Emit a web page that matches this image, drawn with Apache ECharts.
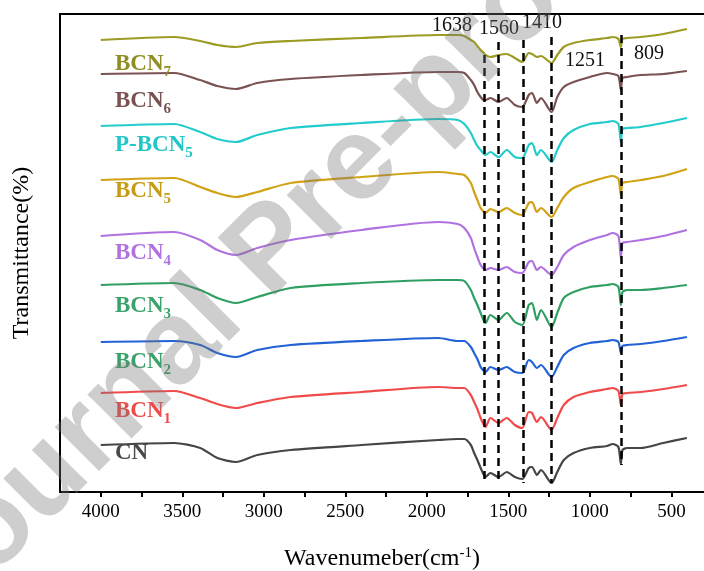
<!DOCTYPE html>
<html>
<head>
<meta charset="utf-8">
<script src="https://cdn.jsdelivr.net/npm/echarts@6/dist/echarts.min.js"></script>
<style>
html,body{margin:0;padding:0;background:#fff;}
#chart{width:704px;height:571px;}
</style>
</head>
<body>
<div id="chart"></div>
<script>
// Wavenumber grid (cm-1)
const wavenumbers = [4000,3550,3390,3285,3170,3040,2835,2400,1930,1810,1770,1730,1710,1690,1670,1650,1640,1610,1560,1510,1460,1415,1375,1355,1325,1300,1235,1200,1160,1100,1000,895,860,825,810,800,772,690,550,405];

// Stacked transmittance (offset, arbitrary units)
const CN     = [55,57,52,42,38,45,50,55,60,61,61,55,47,40,32,25,23,27,23,28,23,21,32,33,25,30,17,28,40,47,52,54,56,53,36,50,52,52,57,62];
const BCN1   = [107,109,102,96,92,97,103,108,113,112,112,105,98,91,82,75,73,82,77,82,75,72,88,87,78,83,70,82,95,103,108,111,112,109,95,106,107,108,111,115];
const BCN2   = [158,159,155,147,143,150,155,159,162,159,159,153,147,141,133,129,128,133,130,133,128,127,140,138,132,135,123,133,145,152,157,159,160,158,147,154,155,156,159,163];
const BCN3   = [215,217,210,202,197,203,212,217,220,220,219,210,202,195,187,179,177,185,180,187,178,175,195,197,180,190,173,187,202,208,213,215,216,213,195,208,210,210,212,215];
const BCN4   = [264,268,260,250,245,252,260,270,278,276,272,262,252,243,235,231,230,232,230,233,228,227,238,239,230,233,225,233,245,253,260,265,267,264,242,257,258,260,264,270];
const BCN5   = [320,322,313,307,303,308,317,323,328,326,325,317,308,300,292,288,287,291,288,292,287,285,297,298,288,292,283,292,303,312,318,323,324,321,305,317,318,320,324,331];
const PBCN5  = [374,376,368,361,358,365,372,377,381,380,376,367,360,354,350,346,345,348,343,350,343,342,355,357,345,350,338,350,362,370,376,378,379,376,358,371,372,373,377,382];
const BCN6   = [426,427,420,414,411,417,421,425,428,428,427,420,415,408,403,400,400,402,398,402,395,393,405,407,397,402,388,403,413,418,423,427,426,424,410,422,423,425,426,429];
const BCN7   = [460,463,459,455,453,457,459,462,465,465,464,460,458,454,450,447,445,443,445,446,442,438,447,446,443,444,437,445,453,457,460,462,463,461,453,461,462,463,466,471];

const seriesNames = ['CN','BCN1','BCN2','BCN3','BCN4','BCN5','P-BCN5','BCN6','BCN7'];
const seriesData  = [CN,BCN1,BCN2,BCN3,BCN4,BCN5,PBCN5,BCN6,BCN7];
const lineColors  = ['#454545','#f04a4a','#2262d6','#2fa062','#b072e0','#d0a214','#22cccc','#7a5252','#9c9c24'];
const labelColors = ['#4a4a4a','#f04a4a','#3aa36a','#3aa36a','#b072e0','#c79c14','#22c6c6','#7a5252','#8e8e22'];
const labelMain   = ['CN','BCN','BCN','BCN','BCN','BCN','P-BCN','BCN','BCN'];
const labelSub    = ['','1','2','3','4','5','5','6','7'];

// x axis ticks / labels
const xTickLabels = [4000,3500,3000,2500,2000,1500,1000,500];
const xTicks = [4000,3750,3500,3250,3000,2750,2500,2250,2000,1750,1500,1250,1000,750,500];

// marked bands
const peakLabels   = ['1638','1560','1410','1251','809'];
const peakLinePos  = [1645,1560,1410,1236,809];
const peakLineTop  = [445,458,460,463,465];
const peakLineBot  = [18,17,17,17,35];

const SERIF = "'Liberation Serif','Times New Roman',serif";

const chart = echarts.init(document.getElementById('chart'), null, {renderer:'canvas'});

const series = seriesData.map((d, i) => ({
  name: seriesNames[i],
  type: 'line',
  data: wavenumbers.map((w, j) => [w, d[j]]),
  showSymbol: false,
  smooth: 0.25,
  lineStyle: {color: lineColors[i], width: 2.2},
  itemStyle: {color: lineColors[i]},
  silent: true,
  z: 3
}));

series.push({
  type: 'line',
  data: [],
  silent: true,
  markLine: {
    symbol: ['none','none'],
    silent: true,
    label: {show: false},
    lineStyle: {color: '#000', type: [8,5], width: 2.5},
    data: peakLinePos.map((p, i) => [
      {coord: [p, peakLineTop[i]]},
      {coord: [p, peakLineBot[i]]}
    ])
  },
  z: 4
});

// label pixel anchors
const seriesLabelPos = [[115,456],[115,410],[115,361],[115,305],[115,252],[115,190],[115,144],[115,100],[115,63]];
const peakLabelPos = [[452,26],[499,29],[542,23],[585,61],[649,54]];

const graphic = [];
seriesLabelPos.forEach((p, i) => {
  graphic.push({
    type: 'text', left: p[0], top: p[1] - 14, z: 10, silent: true,
    style: {
      text: '{m|' + labelMain[i] + '}' + (labelSub[i] ? '{s|' + labelSub[i] + '}' : ''),
      rich: {
        m: {fontFamily: SERIF, fontWeight: 'bold', fontSize: 23, fill: labelColors[i], color: labelColors[i], lineHeight: 28},
        s: {fontFamily: SERIF, fontWeight: 'bold', fontSize: 15, fill: labelColors[i], color: labelColors[i], lineHeight: 28, padding: [16,0,0,0]}
      }
    }
  });
});
peakLabelPos.forEach((p, i) => {
  graphic.push({
    type: 'text', x: p[0], y: p[1], z: 10, silent: true,
    style: {text: peakLabels[i], fontFamily: SERIF, fontSize: 20, fill: '#111', align: 'center', verticalAlign: 'middle'}
  });
});
// watermark
graphic.push({
  type: 'text', x: 272, y: 252, rotation: Math.PI / 4, z: 100, silent: true,
  style: {text: 'Journal Pre-proof', fontFamily: "'Liberation Sans',Arial,sans-serif", fontWeight: 'bold', fontSize: 118,
          fill: 'rgba(120,120,120,0.36)', align: 'center', verticalAlign: 'middle'}
});

chart.setOption({
  animation: false,
  backgroundColor: '#fff',
  grid: {left: 60, right: 0, top: 14, bottom: 79, containLabel: false, outerBoundsMode: 'none'},
  xAxis: [{
    type: 'value', inverse: true, min: 300, max: 4250, position: 'bottom',
    axisLine: {show: true, onZero: false, lineStyle: {color: '#000', width: 2}},
    axisTick: {show: true, inside: false, length: 5, lineStyle: {color: '#000', width: 2}, customValues: xTicks},
    axisLabel: {show: true, customValues: xTickLabels, formatter: v => String(v), fontFamily: SERIF, fontSize: 19, color: '#000', margin: 11},
    splitLine: {show: false},
    name: 'Wavenumeber(cm{sup|-1})', nameLocation: 'middle', nameGap: 54,
    nameTextStyle: {fontFamily: SERIF, fontSize: 24, color: '#000',
      rich: {sup: {fontFamily: SERIF, fontSize: 15, color: '#000', padding: [0,0,11,0]}}}
  }, {
    type: 'value', inverse: true, min: 300, max: 4250, position: 'top',
    axisLine: {show: true, onZero: false, lineStyle: {color: '#000', width: 2}},
    axisTick: {show: false}, axisLabel: {show: false}, splitLine: {show: false}
  }],
  yAxis: {
    type: 'value', min: 8, max: 486,
    axisLine: {show: true, lineStyle: {color: '#000', width: 2}},
    axisTick: {show: false}, axisLabel: {show: false}, splitLine: {show: false},
    name: 'Transmittance(%)', nameLocation: 'middle', nameGap: 26,
    nameTextStyle: {fontFamily: SERIF, fontSize: 24, color: '#000'}
  },
  series: series,
  graphic: graphic
});
</script>
</body>
</html>
